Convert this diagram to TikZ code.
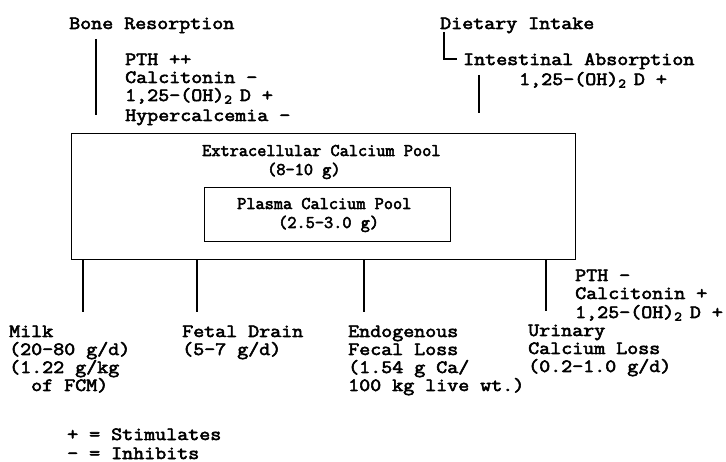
\documentclass[tikz,border=0pt]{standalone}
\usepackage{fontspec}
\newfontfamily\mono[FakeBold=3,FakeStretch=1.143]{Latin Modern Mono}
\newfontfamily\bmono[FakeBold=3]{Latin Modern Mono}
\newcommand{\ohtwo}{(OH)\textsubscript{2}\hspace{0.4em}D}
\begin{document}
\begin{tikzpicture}[x=1pt,y=-1pt,
  lbl/.style={font=\mono\fontsize{18.7}{18}\selectfont, inner sep=0pt, anchor=base west, text height=11pt, text depth=2pt},
  btxt/.style={font=\bmono\fontsize{17.8}{18}\selectfont, inner sep=0pt, anchor=base west, text height=10pt, text depth=2pt},
  ln/.style={line width=1.3pt},
  poolbox/.style={draw, line width=1.3pt, anchor=north west, inner sep=0pt}]
\useasboundingbox (0,0) rectangle (726,462);
% pools
\node[poolbox, minimum width=504pt, minimum height=126pt] (pool) at (71,133) {};
\node[poolbox, minimum width=246pt, minimum height=54pt] (plasma) at (204,187) {};
\node[btxt] (ext1) at (202,156) {Extracellular Calcium Pool};
\node[btxt] (ext2) at (267,175) {(8-10 g)};
\node[btxt] (pl1) at (237,209) {Plasma Calcium Pool};
\node[btxt] (pl2) at (278,228) {(2.5-3.0 g)};
% top inputs
\node[lbl] (bone) at (69,29) {Bone Resorption};
\node[lbl] (br1) at (125,65) {PTH ++};
\node[lbl] (br2) at (125,83) {Calcitonin -};
\node[lbl] (br3) at (125,101) {1,25-\ohtwo{} +};
\node[lbl] (br4) at (125,121) {Hypercalcemia -};
\node[lbl] (diet) at (440,29) {Dietary Intake};
\node[lbl] (intab) at (463,65) {Intestinal Absorption};
\node[lbl] (ia1) at (519,85) {1,25-\ohtwo{} +};
\coordinate (b1) at (96,39);
\coordinate (b2) at (96,115);
\coordinate (d1) at (444,32);
\coordinate (d2) at (457,59);
\coordinate (i1) at (479,75);
\coordinate (i2) at (479,113);
\draw[ln] (b1) -- (b2);
\draw[ln] (d1) |- (d2);
\draw[ln] (i1) -- (i2);
% outputs
\node[lbl] (milk1) at (9,337) {Milk};
\node[lbl] (milk2) at (9,355) {(20-80 g/d)};
\node[lbl] (milk3) at (9,373) {(1.22 g/kg};
\node[lbl] (milk4) at (31,391) {of FCM)};
\node[lbl] (fet1) at (182,337) {Fetal Drain};
\node[lbl] (fet2) at (182,355) {(5-7 g/d)};
\node[lbl] (end1) at (348,337) {Endogenous};
\node[lbl] (end2) at (348,355) {Fecal Loss};
\node[lbl] (end3) at (348,373) {(1.54 g Ca/};
\node[lbl] (end4) at (348,391) {100 kg live wt.)};
\node[lbl] (uri1) at (528,336) {Urinary};
\node[lbl] (uri2) at (528,354) {Calcium Loss};
\node[lbl] (uri3) at (528,372) {(0.2-1.0 g/d)};
\node[lbl] (ur1) at (575,281) {PTH -};
\node[lbl] (ur2) at (575,299) {Calcitonin +};
\node[lbl] (ur3) at (575,318) {1,25-\ohtwo{} +};
\coordinate (m) at (83,312);
\coordinate (f) at (197,312);
\coordinate (e) at (364,312);
\coordinate (u) at (546,311);
\draw[ln] (pool.south -| m) -- (m);
\draw[ln] (pool.south -| f) -- (f);
\draw[ln] (pool.south -| e) -- (e);
\draw[ln] (pool.south -| u) -- (u);
% legend
\node[lbl] (leg1) at (67,440) {+ = Stimulates};
\node[lbl] (leg2) at (67,459) {- = Inhibits};
\end{tikzpicture}
\end{document}
